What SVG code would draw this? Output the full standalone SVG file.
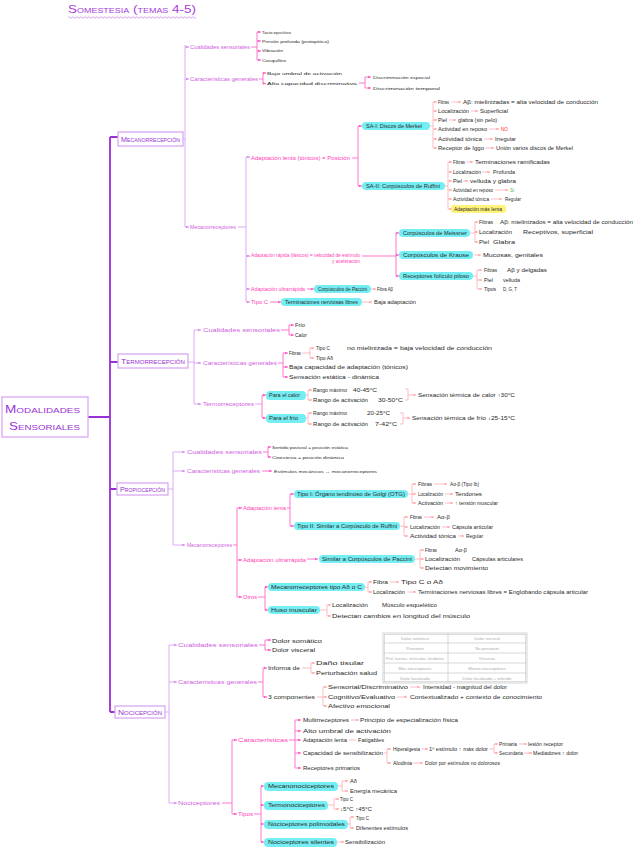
<svg xmlns="http://www.w3.org/2000/svg" width="637" height="848" viewBox="0 0 637 848">
<defs>
<style>
text{font-family:"Liberation Sans",Arial,sans-serif}
.t{font-size:4.6px;fill:#2b2b2b}
.ts{font-size:4.2px;fill:#2b2b2b}
.v{font-size:5.4px;fill:#d05ee0}
.p{font-size:5.2px;fill:#ff3fb6}
.bt{font-size:7px;fill:#9a33d2;font-variant:small-caps}
.rt{font-size:11px;fill:#9a33d2;font-variant:small-caps}
.title{font-size:10.5px;fill:#a640d8;font-variant:small-caps}
.tt{font-size:4.2px;fill:#ababab;text-anchor:middle}
.box{fill:#fff;stroke:#d9a9f3;stroke-width:1.3}
.hc{fill:#74eef3}
.hy{fill:#fff37a}
.main{stroke:#9b2fd6;stroke-width:1.8;fill:none}
.l2{stroke:#d8a0f0;stroke-width:0.9;fill:none}
.l3{stroke:#ff66c9;stroke-width:0.9;fill:none}
.l4{stroke:#ff9fa6;stroke-width:0.7;fill:none}
.tb{fill:none;stroke:#d2d2d2;stroke-width:0.9}
.red{fill:#ff2a2a}
.grn{fill:#4cbb3a}
</style>
<marker id="mv" viewBox="0 0 6 6" refX="6" refY="3" markerWidth="3.4" markerHeight="3.4" orient="auto"><path d="M0,0.5L6,3L0,5.5z" fill="#d28fee"/></marker>
<marker id="mp" viewBox="0 0 6 6" refX="6" refY="3" markerWidth="3.4" markerHeight="3.4" orient="auto"><path d="M0,0.5L6,3L0,5.5z" fill="#ff5cc6"/></marker>
<marker id="ms" viewBox="0 0 6 6" refX="6" refY="3" markerWidth="3.6" markerHeight="3.6" orient="auto"><path d="M0,0.5L6,3L0,5.5z" fill="#ff949e"/></marker>
</defs>
<rect width="637" height="848" fill="#fff"/>

<g id="title"><text class="title" x="68" y="13" textLength="128" lengthAdjust="spacingAndGlyphs">Somestesia (temas 4-5)</text>
<path d="M68,17.5q1,-1.6 2,0t2,0t2,0t2,0t2,0t2,0t2,0t2,0t2,0t2,0t2,0t2,0t2,0t2,0t2,0t2,0t2,0t2,0t2,0t2,0t2,0t2,0t2,0t2,0t2,0t2,0t2,0t2,0t2,0t2,0t2,0t2,0t2,0t2,0t2,0t2,0t2,0t2,0t2,0t2,0t2,0t2,0t2,0t2,0t2,0t2,0t2,0t2,0t2,0t2,0t2,0t2,0t2,0t2,0t2,0t2,0t2,0t2,0t2,0t2,0t2,0t2,0t2,0t2,0" fill="none" stroke="#c98ef0" stroke-width="0.8"/></g>

<g id="connectors">
<path class="main" d="M88,417H110M110,137V712M110,137H118M110,362H118M110,489H117M110,712H115"/>
<!-- mecano -->
<path class="l2" d="M183,139H185M185,45V227M238,227H246M246,157V302"/>
<path class="l2" marker-end="url(#mv)" d="M185,47H189"/>
<path class="l2" marker-end="url(#mv)" d="M185,79H189"/>
<path class="l2" marker-end="url(#mv)" d="M185,227H189"/>
<path class="l2" marker-end="url(#mv)" d="M246,157H250"/>
<path class="l2" marker-end="url(#mv)" d="M246,256H250"/>
<path class="l2" marker-end="url(#mv)" d="M246,289H250"/>
<path class="l2" marker-end="url(#mv)" d="M246,302H250"/>
<path class="l3" d="M251,47H257M257,32V60M259,79H263M263,73V84M359,83H365M365,77V88"/>
<path class="l3" marker-end="url(#mp)" d="M257,32H261"/>
<path class="l3" marker-end="url(#mp)" d="M257,41H261"/>
<path class="l3" marker-end="url(#mp)" d="M257,51H261"/>
<path class="l3" marker-end="url(#mp)" d="M257,60H261"/>
<path class="l3" marker-end="url(#mp)" d="M263,73H266"/>
<path class="l3" marker-end="url(#mp)" d="M263,83.5H266"/>
<path class="l3" marker-end="url(#mp)" d="M365,77H371"/>
<path class="l3" marker-end="url(#mp)" d="M365,88H371"/>
<path class="l3" d="M352,158H358M358,126V186M362,256H396M396,233V276"/>
<path class="l3" marker-end="url(#mp)" d="M358,126H362"/>
<path class="l3" marker-end="url(#mp)" d="M358,186H362"/>
<path class="l3" marker-end="url(#mp)" d="M396,233H399"/>
<path class="l3" marker-end="url(#mp)" d="M396,255H399"/>
<path class="l3" marker-end="url(#mp)" d="M396,276H399"/>
<path class="l3" marker-end="url(#mp)" d="M307,289H314"/>
<path class="l3" marker-end="url(#mp)" d="M270,302H281"/>
<path class="l4" d="M430,126H433M433,102V148M445,186H448M448,162V209M470,233H475M475,222V242M473,276H477M477,270V289"/>
<path class="l4" marker-end="url(#ms)" d="M433,102H437"/>
<path class="l4" marker-end="url(#ms)" d="M433,111H437"/>
<path class="l4" marker-end="url(#ms)" d="M433,120H437"/>
<path class="l4" marker-end="url(#ms)" d="M433,129H437"/>
<path class="l4" marker-end="url(#ms)" d="M433,139H437"/>
<path class="l4" marker-end="url(#ms)" d="M433,148H437"/>
<path class="l4" marker-end="url(#ms)" d="M451,102H461"/>
<path class="l4" marker-end="url(#ms)" d="M471,111H478"/>
<path class="l4" marker-end="url(#ms)" d="M449,120H456"/>
<path class="l4" marker-end="url(#ms)" d="M489,129H499"/>
<path class="l4" marker-end="url(#ms)" d="M484,139H493"/>
<path class="l4" marker-end="url(#ms)" d="M486,148H494"/>
<path class="l4" marker-end="url(#ms)" d="M448,162H452"/>
<path class="l4" marker-end="url(#ms)" d="M448,172H452"/>
<path class="l4" marker-end="url(#ms)" d="M448,181H452"/>
<path class="l4" marker-end="url(#ms)" d="M448,190H452"/>
<path class="l4" marker-end="url(#ms)" d="M448,199H452"/>
<path class="l4" marker-end="url(#ms)" d="M448,209H452"/>
<path class="l4" marker-end="url(#ms)" d="M466,162H473"/>
<path class="l4" marker-end="url(#ms)" d="M482,172H490"/>
<path class="l4" marker-end="url(#ms)" d="M463,181H468"/>
<path class="l4" marker-end="url(#ms)" d="M495,190H508"/>
<path class="l4" marker-end="url(#ms)" d="M491,199H502"/>
<path class="l4" marker-end="url(#ms)" d="M475,222H478"/>
<path class="l4" marker-end="url(#ms)" d="M475,232H478"/>
<path class="l4" marker-end="url(#ms)" d="M475,242H478"/>
<path class="l4" marker-end="url(#ms)" d="M474,255H481"/>
<path class="l4" marker-end="url(#ms)" d="M477,270H482"/>
<path class="l4" marker-end="url(#ms)" d="M477,280H482"/>
<path class="l4" marker-end="url(#ms)" d="M477,289H482"/>
<path class="l4" marker-end="url(#ms)" d="M371,289H376"/>
<path class="l4" marker-end="url(#ms)" d="M362,302H372"/>
<!-- termo -->
<path class="l2" d="M188,362H194M194,330V404M255,404H262"/>
<path class="l2" marker-end="url(#mv)" d="M194,330H201"/>
<path class="l2" marker-end="url(#mv)" d="M194,363H201"/>
<path class="l2" marker-end="url(#mv)" d="M194,404H201"/>
<path class="l3" d="M281,330H289M289,325V335M278,363H283M283,353V377M262,395V418"/>
<path class="l3" marker-end="url(#mp)" d="M289,325H294"/>
<path class="l3" marker-end="url(#mp)" d="M289,335H294"/>
<path class="l3" marker-end="url(#mp)" d="M283,353H288"/>
<path class="l3" marker-end="url(#mp)" d="M283,367H288"/>
<path class="l3" marker-end="url(#mp)" d="M283,377H288"/>
<path class="l3" marker-end="url(#mp)" d="M262,395H266"/>
<path class="l3" marker-end="url(#mp)" d="M262,418H266"/>
<path class="l4" d="M302,353H310M310,348V358M306,395H308M308,390V400M306,418H308M308,413V424M405,389H408V400H405M400,413H403V424H400"/>
<path class="l4" marker-end="url(#ms)" d="M310,348H314"/>
<path class="l4" marker-end="url(#ms)" d="M310,358H314"/>
<path class="l4" marker-end="url(#ms)" d="M308,390H312"/>
<path class="l4" marker-end="url(#ms)" d="M308,400H312"/>
<path class="l4" marker-end="url(#ms)" d="M308,413H312"/>
<path class="l4" marker-end="url(#ms)" d="M308,424H312"/>
<path class="l4" marker-end="url(#ms)" d="M408,395H416"/>
<path class="l4" marker-end="url(#ms)" d="M403,418H410"/>
<!-- propio -->
<path class="l2" d="M168,489H173M173,452V545"/>
<path class="l2" marker-end="url(#mv)" d="M173,452H185"/>
<path class="l2" marker-end="url(#mv)" d="M173,471H185"/>
<path class="l2" marker-end="url(#mv)" d="M173,545H185"/>
<path class="l3" d="M263,452H268M268,447V457M233,545H237M237,508V597M287,508H290M290,494V526M258,597H265M265,587V610"/>
<path class="l3" marker-end="url(#mp)" d="M268,447H271"/>
<path class="l3" marker-end="url(#mp)" d="M268,457H271"/>
<path class="l3" marker-end="url(#mp)" d="M262,471H272"/>
<path class="l3" marker-end="url(#mp)" d="M237,508H242"/>
<path class="l3" marker-end="url(#mp)" d="M237,560H242"/>
<path class="l3" marker-end="url(#mp)" d="M237,597H242"/>
<path class="l3" marker-end="url(#mp)" d="M290,494H294"/>
<path class="l3" marker-end="url(#mp)" d="M290,526H294"/>
<path class="l3" marker-end="url(#mp)" d="M307,559H318"/>
<path class="l3" marker-end="url(#mp)" d="M265,587H268"/>
<path class="l3" marker-end="url(#mp)" d="M265,610H268"/>
<path class="l4" d="M408,494H412M412,484V503M400,526H404M404,517V536M415,559H420M420,550V568M365,587H368M368,582V592M320,610H327M327,605V616"/>
<path class="l4" marker-end="url(#ms)" d="M412,484H416"/>
<path class="l4" marker-end="url(#ms)" d="M412,494H416"/>
<path class="l4" marker-end="url(#ms)" d="M412,503H416"/>
<path class="l4" marker-end="url(#ms)" d="M434,484H447"/>
<path class="l4" marker-end="url(#ms)" d="M445,494H453"/>
<path class="l4" marker-end="url(#ms)" d="M445,503H453"/>
<path class="l4" marker-end="url(#ms)" d="M404,517H408"/>
<path class="l4" marker-end="url(#ms)" d="M404,527H408"/>
<path class="l4" marker-end="url(#ms)" d="M404,536H408"/>
<path class="l4" marker-end="url(#ms)" d="M424,517H434"/>
<path class="l4" marker-end="url(#ms)" d="M442,527H450"/>
<path class="l4" marker-end="url(#ms)" d="M458,536H464"/>
<path class="l4" marker-end="url(#ms)" d="M420,550H424"/>
<path class="l4" marker-end="url(#ms)" d="M420,559H424"/>
<path class="l4" marker-end="url(#ms)" d="M420,568H424"/>
<path class="l4" marker-end="url(#ms)" d="M368,582H372"/>
<path class="l4" marker-end="url(#ms)" d="M368,592H372"/>
<path class="l4" marker-end="url(#ms)" d="M390,582H399"/>
<path class="l4" marker-end="url(#ms)" d="M407,592H416"/>
<path class="l4" marker-end="url(#ms)" d="M327,605H331"/>
<path class="l4" marker-end="url(#ms)" d="M327,616H331"/>
<!-- noci -->
<path class="l2" d="M165,712H169M169,645V803"/>
<path class="l2" marker-end="url(#mv)" d="M169,645H177"/>
<path class="l2" marker-end="url(#mv)" d="M169,682H177"/>
<path class="l2" marker-end="url(#mv)" d="M169,803H177"/>
<path class="l3" d="M259,645H265M265,640V650M258,682H263M263,668V697M222,803H232M232,740V814M289,740H295M295,720V768M254,814H261M261,786V842"/>
<path class="l3" marker-end="url(#mp)" d="M265,640H271"/>
<path class="l3" marker-end="url(#mp)" d="M265,650H271"/>
<path class="l3" marker-end="url(#mp)" d="M263,668H267"/>
<path class="l3" marker-end="url(#mp)" d="M263,697H267"/>
<path class="l3" marker-end="url(#mp)" d="M232,740H237"/>
<path class="l3" marker-end="url(#mp)" d="M232,814H237"/>
<path class="l3" marker-end="url(#mp)" d="M295,720H301"/>
<path class="l3" marker-end="url(#mp)" d="M295,731H301"/>
<path class="l3" marker-end="url(#mp)" d="M295,740H301"/>
<path class="l3" marker-end="url(#mp)" d="M295,753H301"/>
<path class="l3" marker-end="url(#mp)" d="M295,768H301"/>
<path class="l3" marker-end="url(#mp)" d="M261,786H264"/>
<path class="l3" marker-end="url(#mp)" d="M261,805H264"/>
<path class="l3" marker-end="url(#mp)" d="M261,824H264"/>
<path class="l3" marker-end="url(#mp)" d="M261,842H264"/>
<path class="l4" d="M302,668H311M311,663V673M317,697H323M323,687V706M349,740H356M384,753H387M387,749V763M489,749H494M494,744V753M338,786H342M342,781V791M328,805H334M334,799V809M348,824H350M350,817V828"/>
<path class="l4" marker-end="url(#ms)" d="M311,663H315"/>
<path class="l4" marker-end="url(#ms)" d="M311,673H315"/>
<path class="l4" marker-end="url(#ms)" d="M323,687H327"/>
<path class="l4" marker-end="url(#ms)" d="M323,697H327"/>
<path class="l4" marker-end="url(#ms)" d="M323,706H327"/>
<path class="l4" marker-end="url(#ms)" d="M410,687H420"/>
<path class="l4" marker-end="url(#ms)" d="M397,697H407"/>
<path class="l4" marker-end="url(#ms)" d="M351,720H359"/>
<path class="l4" marker-end="url(#ms)" d="M387,749H391"/>
<path class="l4" marker-end="url(#ms)" d="M387,763H391"/>
<path class="l4" marker-end="url(#ms)" d="M421,749H428"/>
<path class="l4" marker-end="url(#ms)" d="M494,744H498"/>
<path class="l4" marker-end="url(#ms)" d="M494,753H498"/>
<path class="l4" marker-end="url(#ms)" d="M519,744H527"/>
<path class="l4" marker-end="url(#ms)" d="M524,753H532"/>
<path class="l4" marker-end="url(#ms)" d="M413,763H423"/>
<path class="l4" marker-end="url(#ms)" d="M342,781H348"/>
<path class="l4" marker-end="url(#ms)" d="M342,791H348"/>
<path class="l4" marker-end="url(#ms)" d="M334,799H339"/>
<path class="l4" marker-end="url(#ms)" d="M334,809H339"/>
<path class="l4" marker-end="url(#ms)" d="M350,817H354"/>
<path class="l4" marker-end="url(#ms)" d="M350,828H354"/>
<path class="l4" marker-end="url(#ms)" d="M337,842H344"/>
</g>

<g id="root"><rect class="box" x="2" y="397" width="86" height="40"/><text class="rt" x="5" y="413" textLength="75" lengthAdjust="spacingAndGlyphs">Modalidades</text><text class="rt" x="9" y="430" textLength="71" lengthAdjust="spacingAndGlyphs">Sensoriales</text></g>

<!-- MECANORRECEPCION -->
<g id="mecano"><rect class="box" x="118" y="132" width="65" height="14"/><text class="bt" x="121" y="142.3" textLength="59" lengthAdjust="spacingAndGlyphs">Mecanorrecepción</text></g>
<g id="m-cual"><text class="v" x="190" y="48.6" textLength="60" lengthAdjust="spacingAndGlyphs">Cualidades sensoriales</text></g>
<g id="m-cual-1"><text class="ts" x="262" y="33.5" textLength="29" lengthAdjust="spacingAndGlyphs">Tacto epicrítico</text></g>
<g id="m-cual-2"><text class="ts" x="262" y="42.5" textLength="67" lengthAdjust="spacingAndGlyphs">Presión profunda (protopática)</text></g>
<g id="m-cual-3"><text class="ts" x="262" y="52" textLength="21" lengthAdjust="spacingAndGlyphs">Vibración</text></g>
<g id="m-cual-4"><text class="ts" x="262" y="61.5" textLength="24" lengthAdjust="spacingAndGlyphs">Cosquilleo</text></g>
<g id="m-car"><text class="v" x="190" y="80.6" textLength="68" lengthAdjust="spacingAndGlyphs">Características generales</text></g>
<g id="m-car-1"><text class="ts" x="267" y="74.6" textLength="75" lengthAdjust="spacingAndGlyphs">Bajo umbral de activación</text></g>
<g id="m-car-2"><text class="ts" x="267" y="84.6" textLength="90" lengthAdjust="spacingAndGlyphs">Alta capacidad discriminativa</text></g>
<g id="m-car-3"><text class="ts" x="373" y="78.6" textLength="57" lengthAdjust="spacingAndGlyphs">Discriminación espacial</text></g>
<g id="m-car-4"><text class="ts" x="373" y="89.6" textLength="67" lengthAdjust="spacingAndGlyphs">Discriminación temporal</text></g>
<g id="m-mr"><text class="v" x="190" y="228.6" textLength="46" lengthAdjust="spacingAndGlyphs">Mecanorreceptores</text></g>
<g id="m-lenta"><text class="p" x="251" y="159.6" textLength="99" lengthAdjust="spacingAndGlyphs">Adaptación lenta (tónicos) = Posición</text></g>
<g id="m-sa1"><rect class="hc" x="362" y="122" width="68" height="8" rx="4"/><text class="t" x="366" y="127.6" textLength="56" lengthAdjust="spacingAndGlyphs">SA-I: Discos de Merkel</text></g>
<g id="sa1-1"><text class="t" x="438" y="103.6" textLength="11" lengthAdjust="spacingAndGlyphs">Fibras</text><text class="t" x="463" y="103.6" textLength="135" lengthAdjust="spacingAndGlyphs">Aβ: mielinizadas = alta velocidad de conducción</text></g>
<g id="sa1-2"><text class="t" x="438" y="112.6" textLength="31" lengthAdjust="spacingAndGlyphs">Localización</text><text class="t" x="480" y="112.6" textLength="28" lengthAdjust="spacingAndGlyphs">Superficial</text></g>
<g id="sa1-3"><text class="t" x="438" y="121.6" textLength="9" lengthAdjust="spacingAndGlyphs">Piel</text><text class="t" x="458" y="121.6" textLength="39" lengthAdjust="spacingAndGlyphs">glabra (sin pelo)</text></g>
<g id="sa1-4"><text class="t" x="438" y="130.6" textLength="49" lengthAdjust="spacingAndGlyphs">Actividad en reposo</text><text class="t red" x="501" y="130.6">NO</text></g>
<g id="sa1-5"><text class="t" x="438" y="140.6" textLength="44" lengthAdjust="spacingAndGlyphs">Actividad tónica</text><text class="t" x="495" y="140.6" textLength="21" lengthAdjust="spacingAndGlyphs">Irregular</text></g>
<g id="sa1-6"><text class="t" x="438" y="149.6" textLength="46" lengthAdjust="spacingAndGlyphs">Receptor de Iggo</text><text class="t" x="496" y="149.6" textLength="77" lengthAdjust="spacingAndGlyphs">Unión varios discos de Merkel</text></g>
<g id="m-sa2"><rect class="hc" x="362" y="182" width="83" height="8" rx="4"/><text class="t" x="366" y="187.6" textLength="74" lengthAdjust="spacingAndGlyphs">SA-II: Corpúsculos de Ruffini</text></g>
<g id="sa2-1"><text class="t" x="453" y="163.6" textLength="12" lengthAdjust="spacingAndGlyphs">Fibras</text><text class="t" x="475" y="163.6" textLength="75" lengthAdjust="spacingAndGlyphs">Terminaciones ramificadas</text></g>
<g id="sa2-2"><text class="t" x="453" y="173.6" textLength="28" lengthAdjust="spacingAndGlyphs">Localización</text><text class="t" x="493" y="173.6" textLength="22" lengthAdjust="spacingAndGlyphs">Profunda</text></g>
<g id="sa2-3"><text class="t" x="453" y="182.6" textLength="9" lengthAdjust="spacingAndGlyphs">Piel</text><text class="t" x="470" y="182.6" textLength="46" lengthAdjust="spacingAndGlyphs">velluda y glabra</text></g>
<g id="sa2-4"><text class="t" x="453" y="191.6" textLength="40" lengthAdjust="spacingAndGlyphs">Actividad en reposo</text><text class="t grn" x="510" y="191.6">Sí</text></g>
<g id="sa2-5"><text class="t" x="453" y="200.6" textLength="36" lengthAdjust="spacingAndGlyphs">Actividad tónica</text><text class="t" x="505" y="200.6" textLength="16" lengthAdjust="spacingAndGlyphs">Regular</text></g>
<g id="sa2-6"><rect class="hy" x="451" y="205" width="55" height="8" rx="3"/><text class="t" x="454" y="210.6" textLength="48" lengthAdjust="spacingAndGlyphs">Adaptación más lenta</text></g>
<g id="m-rapida"><text class="p" x="251" y="256.6" textLength="109" lengthAdjust="spacingAndGlyphs">Adaptación rápida (fásicos) = velocidad de estímulo</text><text class="p" x="332" y="262.6" textLength="28" lengthAdjust="spacingAndGlyphs">y aceleración</text></g>
<g id="m-meissner"><rect class="hc" x="399" y="229" width="71" height="8" rx="4"/><text class="t" x="403" y="234.6" textLength="64" lengthAdjust="spacingAndGlyphs">Corpúsculos de Meissner</text></g>
<g id="mei-1"><text class="t" x="479" y="223.6" textLength="14" lengthAdjust="spacingAndGlyphs">Fibras</text><text class="t" x="500" y="223.6" textLength="133" lengthAdjust="spacingAndGlyphs">Aβ: mielinizados = alta velocidad de conducción</text></g>
<g id="mei-2"><text class="t" x="479" y="233.6" textLength="33" lengthAdjust="spacingAndGlyphs">Localización</text><text class="t" x="523" y="233.6" textLength="70" lengthAdjust="spacingAndGlyphs">Receptivos, superficial</text></g>
<g id="mei-3"><text class="t" x="479" y="243.6" textLength="10" lengthAdjust="spacingAndGlyphs">Piel</text><text class="t" x="493" y="243.6" textLength="22" lengthAdjust="spacingAndGlyphs">Glabra</text></g>
<g id="m-krause"><rect class="hc" x="399" y="251" width="74" height="8" rx="4"/><text class="t" x="403" y="256.6" textLength="66" lengthAdjust="spacingAndGlyphs">Corpúsculos de Krause</text></g>
<g id="kra-1"><text class="t" x="483" y="256.6" textLength="60" lengthAdjust="spacingAndGlyphs">Mucosas, genitales</text></g>
<g id="m-foliculo"><rect class="hc" x="399" y="272" width="74" height="8" rx="4"/><text class="t" x="403" y="277.6" textLength="66" lengthAdjust="spacingAndGlyphs">Receptores folículo piloso</text></g>
<g id="fol-1"><text class="t" x="484" y="271.6" textLength="13" lengthAdjust="spacingAndGlyphs">Fibras</text><text class="t" x="507" y="271.6" textLength="40" lengthAdjust="spacingAndGlyphs">Aβ y delgadas</text></g>
<g id="fol-2"><text class="t" x="484" y="281.6" textLength="9" lengthAdjust="spacingAndGlyphs">Piel</text><text class="t" x="503" y="281.6" textLength="17" lengthAdjust="spacingAndGlyphs">velluda</text></g>
<g id="fol-3"><text class="t" x="484" y="290.6" textLength="12" lengthAdjust="spacingAndGlyphs">Tipos</text><text class="t" x="503" y="290.6" textLength="14" lengthAdjust="spacingAndGlyphs">D, G, T</text></g>
<g id="m-ultra"><text class="p" x="251" y="290.6" textLength="54" lengthAdjust="spacingAndGlyphs">Adaptación ultrarrápida</text></g>
<g id="m-paccini"><rect class="hc" x="314" y="285" width="57" height="8" rx="4"/><text class="t" x="318" y="290.6" textLength="49" lengthAdjust="spacingAndGlyphs">Corpúsculos de Paccini</text></g>
<g id="pac-1"><text class="t" x="377" y="290.6" textLength="16" lengthAdjust="spacingAndGlyphs">Fibra Aβ</text></g>
<g id="m-tipoc"><text class="p" x="251" y="303.6" textLength="17" lengthAdjust="spacingAndGlyphs">Tipo C</text></g>
<g id="m-libres"><rect class="hc" x="281" y="298" width="81" height="8" rx="4"/><text class="t" x="285" y="303.6" textLength="73" lengthAdjust="spacingAndGlyphs">Terminaciones nerviosas libres</text></g>
<g id="lib-1"><text class="t" x="374" y="303.6" textLength="42" lengthAdjust="spacingAndGlyphs">Baja adaptación</text></g>

<!-- TERMORRECEPCION -->
<g id="termo"><rect class="box" x="118" y="354" width="70" height="14"/><text class="bt" x="121" y="364.3" textLength="64" lengthAdjust="spacingAndGlyphs">Termorrecepción</text></g>
<g id="t-cual"><text class="v" x="203" y="331.6" textLength="77" lengthAdjust="spacingAndGlyphs">Cualidades sensoriales</text></g>
<g id="t-cual-1"><text class="t" x="295" y="326.6" textLength="10" lengthAdjust="spacingAndGlyphs">Frío</text></g>
<g id="t-cual-2"><text class="t" x="295" y="336.6" textLength="12" lengthAdjust="spacingAndGlyphs">Calor</text></g>
<g id="t-car"><text class="v" x="203" y="364.6" textLength="74" lengthAdjust="spacingAndGlyphs">Características generales</text></g>
<g id="t-fibras"><text class="t" x="289" y="354.6" textLength="12" lengthAdjust="spacingAndGlyphs">Fibras</text></g>
<g id="t-fib-1"><text class="t" x="316" y="349.6" textLength="14" lengthAdjust="spacingAndGlyphs">Tipo C</text><text class="t" x="347" y="349.6" textLength="145" lengthAdjust="spacingAndGlyphs">no mielinizada = baja velocidad de conducción</text></g>
<g id="t-fib-2"><text class="t" x="316" y="359.6" textLength="17" lengthAdjust="spacingAndGlyphs">Tipo Aδ</text></g>
<g id="t-car-2"><text class="t" x="289" y="368.6" textLength="119" lengthAdjust="spacingAndGlyphs">Baja capacidad de adaptación (tónicos)</text></g>
<g id="t-car-3"><text class="t" x="289" y="378.6" textLength="90" lengthAdjust="spacingAndGlyphs">Sensación estática - dinámica</text></g>
<g id="t-rec"><text class="v" x="203" y="405.6" textLength="51" lengthAdjust="spacingAndGlyphs">Termorreceptores</text></g>
<g id="t-calor"><rect class="hc" x="266" y="391" width="40" height="9" rx="4"/><text class="t" x="269" y="397" textLength="31" lengthAdjust="spacingAndGlyphs">Para el calor</text></g>
<g id="t-calor-1"><text class="t" x="313" y="391.6" textLength="34" lengthAdjust="spacingAndGlyphs">Rango máximo</text><text class="t" x="353" y="391.6" textLength="24" lengthAdjust="spacingAndGlyphs">40-45°C</text></g>
<g id="t-calor-2"><text class="t" x="313" y="401.6" textLength="55" lengthAdjust="spacingAndGlyphs">Rango de activación</text><text class="t" x="378" y="401.6" textLength="25" lengthAdjust="spacingAndGlyphs">30-50°C</text></g>
<g id="t-calor-3"><text class="t" x="418" y="396.6" textLength="97" lengthAdjust="spacingAndGlyphs">Sensación térmica de calor ↑30°C</text></g>
<g id="t-frio"><rect class="hc" x="266" y="414" width="40" height="9" rx="4"/><text class="t" x="269" y="420" textLength="29" lengthAdjust="spacingAndGlyphs">Para el frío</text></g>
<g id="t-frio-1"><text class="t" x="313" y="414.6" textLength="34" lengthAdjust="spacingAndGlyphs">Rango máximo</text><text class="t" x="367" y="414.6" textLength="23" lengthAdjust="spacingAndGlyphs">20-25°C</text></g>
<g id="t-frio-2"><text class="t" x="313" y="425.6" textLength="55" lengthAdjust="spacingAndGlyphs">Rango de activación</text><text class="t" x="375" y="425.6" textLength="22" lengthAdjust="spacingAndGlyphs">7-42°C</text></g>
<g id="t-frio-3"><text class="t" x="412" y="419.6" textLength="103" lengthAdjust="spacingAndGlyphs">Sensación térmica de frío ↓25-15°C</text></g>

<!-- PROPIOCEPCION -->
<g id="propio"><rect class="box" x="117" y="483" width="51" height="12"/><text class="bt" x="120" y="492.3" textLength="45" lengthAdjust="spacingAndGlyphs">Propiocepción</text></g>
<g id="p-cual"><text class="v" x="187" y="453.6" textLength="75" lengthAdjust="spacingAndGlyphs">Cualidades sensoriales</text></g>
<g id="p-cual-1"><text class="ts" x="272" y="448.6" textLength="76" lengthAdjust="spacingAndGlyphs">Sentido postural = posición estática</text></g>
<g id="p-cual-2"><text class="ts" x="272" y="458.6" textLength="72" lengthAdjust="spacingAndGlyphs">Cinestesia = posición dinámica</text></g>
<g id="p-car"><text class="v" x="187" y="472.6" textLength="73" lengthAdjust="spacingAndGlyphs">Características generales</text></g>
<g id="p-car-1"><text class="ts" x="274" y="472.6" textLength="103" lengthAdjust="spacingAndGlyphs">Estímulos mecánicos → mecanorreceptores</text></g>
<g id="p-mr"><text class="v" x="187" y="546.6" textLength="45" lengthAdjust="spacingAndGlyphs">Mecanorreceptores</text></g>
<g id="p-lenta"><text class="p" x="243" y="509.6" textLength="43" lengthAdjust="spacingAndGlyphs">Adaptación lenta</text></g>
<g id="p-otg"><rect class="hc" x="294" y="490" width="114" height="8" rx="4"/><text class="t" x="297" y="495.6" textLength="108" lengthAdjust="spacingAndGlyphs">Tipo I: Órgano tendinoso de Golgi (OTG)</text></g>
<g id="otg-1"><text class="t" x="418" y="485.6" textLength="14" lengthAdjust="spacingAndGlyphs">Fibras</text><text class="t" x="450" y="485.6" textLength="29" lengthAdjust="spacingAndGlyphs">Aα-β (Tipo Ib)</text></g>
<g id="otg-2"><text class="t" x="418" y="495.6" textLength="25" lengthAdjust="spacingAndGlyphs">Localización</text><text class="t" x="455" y="495.6" textLength="27" lengthAdjust="spacingAndGlyphs">Tendones</text></g>
<g id="otg-3"><text class="t" x="418" y="504.6" textLength="25" lengthAdjust="spacingAndGlyphs">Activación</text><text class="t" x="455" y="504.6" textLength="43" lengthAdjust="spacingAndGlyphs">↑ tensión muscular</text></g>
<g id="p-ruffini"><rect class="hc" x="294" y="522" width="106" height="8" rx="4"/><text class="t" x="297" y="527.6" textLength="100" lengthAdjust="spacingAndGlyphs">Tipo II: Similar a Corpúsculo de Ruffini</text></g>
<g id="ruf-1"><text class="t" x="410" y="518.6" textLength="12" lengthAdjust="spacingAndGlyphs">Fibras</text><text class="t" x="437" y="518.6" textLength="13" lengthAdjust="spacingAndGlyphs">Aα-β</text></g>
<g id="ruf-2"><text class="t" x="410" y="528.6" textLength="30" lengthAdjust="spacingAndGlyphs">Localización</text><text class="t" x="452" y="528.6" textLength="41" lengthAdjust="spacingAndGlyphs">Cápsula articular</text></g>
<g id="ruf-3"><text class="t" x="410" y="537.6" textLength="46" lengthAdjust="spacingAndGlyphs">Actividad tónica</text><text class="t" x="466" y="537.6" textLength="17" lengthAdjust="spacingAndGlyphs">Regular</text></g>
<g id="p-ultra"><text class="p" x="243" y="561.6" textLength="63" lengthAdjust="spacingAndGlyphs">Adaptación ultrarrápida</text></g>
<g id="p-paccini"><rect class="hc" x="319" y="555" width="96" height="8" rx="4"/><text class="t" x="322" y="560.6" textLength="90" lengthAdjust="spacingAndGlyphs">Similar a Corpúsculos de Paccini</text></g>
<g id="ppac-1"><text class="t" x="425" y="551.6" textLength="12" lengthAdjust="spacingAndGlyphs">Fibras</text><text class="t" x="455" y="551.6" textLength="12" lengthAdjust="spacingAndGlyphs">Aα-β</text></g>
<g id="ppac-2"><text class="t" x="425" y="560.6" textLength="35" lengthAdjust="spacingAndGlyphs">Localización</text><text class="t" x="472" y="560.6" textLength="51" lengthAdjust="spacingAndGlyphs">Cápsulas articulares</text></g>
<g id="ppac-3"><text class="t" x="425" y="569.6" textLength="63" lengthAdjust="spacingAndGlyphs">Detectan movimiento</text></g>
<g id="p-otros"><text class="p" x="243" y="598.6" textLength="14" lengthAdjust="spacingAndGlyphs">Otros</text></g>
<g id="p-mrac"><rect class="hc" x="268" y="583" width="97" height="8" rx="4"/><text class="t" x="271" y="588.6" textLength="91" lengthAdjust="spacingAndGlyphs">Mecanorreceptores tipo Aδ o C</text></g>
<g id="mrac-1"><text class="t" x="373" y="583.6" textLength="15" lengthAdjust="spacingAndGlyphs">Fibra</text><text class="t" x="401" y="583.6" textLength="42" lengthAdjust="spacingAndGlyphs">Tipo C o Aδ</text></g>
<g id="mrac-2"><text class="t" x="373" y="593.6" textLength="32" lengthAdjust="spacingAndGlyphs">Localización</text><text class="t" x="418" y="593.6" textLength="170" lengthAdjust="spacingAndGlyphs">Terminaciones nerviosas libres = Englobando cápsula articular</text></g>
<g id="p-huso"><rect class="hc" x="268" y="606" width="52" height="8" rx="4"/><text class="t" x="271" y="611.6" textLength="46" lengthAdjust="spacingAndGlyphs">Huso muscular</text></g>
<g id="huso-1"><text class="t" x="332" y="606.6" textLength="36" lengthAdjust="spacingAndGlyphs">Localización</text><text class="t" x="382" y="606.6" textLength="55" lengthAdjust="spacingAndGlyphs">Músculo esquelético</text></g>
<g id="huso-2"><text class="t" x="332" y="617.6" textLength="138" lengthAdjust="spacingAndGlyphs">Detectan cambios en longitud del músculo</text></g>

<!-- NOCICEPCION -->
<g id="noci"><rect class="box" x="115" y="706" width="50" height="12"/><text class="bt" x="118" y="715.3" textLength="44" lengthAdjust="spacingAndGlyphs">Nocicepción</text></g>
<g id="n-cual"><text class="v" x="178" y="646.6" textLength="80" lengthAdjust="spacingAndGlyphs">Cualidades sensoriales</text></g>
<g id="n-cual-1"><text class="t" x="272" y="642.6" textLength="50" lengthAdjust="spacingAndGlyphs">Dolor somático</text></g>
<g id="n-cual-2"><text class="t" x="272" y="651.6" textLength="43" lengthAdjust="spacingAndGlyphs">Dolor visceral</text></g>
<g id="n-car"><text class="v" x="178" y="683.6" textLength="79" lengthAdjust="spacingAndGlyphs">Características generales</text></g>
<g id="n-informa"><text class="t" x="268" y="669.6" textLength="32" lengthAdjust="spacingAndGlyphs">Informa de</text></g>
<g id="n-inf-1"><text class="t" x="316" y="664.6" textLength="48" lengthAdjust="spacingAndGlyphs">Daño tisular</text></g>
<g id="n-inf-2"><text class="t" x="316" y="674.6" textLength="61" lengthAdjust="spacingAndGlyphs">Perturbación salud</text></g>
<g id="n-comp"><text class="t" x="268" y="698.6" textLength="47" lengthAdjust="spacingAndGlyphs">3 componentes</text></g>
<g id="n-comp-1"><text class="t" x="328" y="688.6" textLength="80" lengthAdjust="spacingAndGlyphs">Sensorial/Discriminativo</text><text class="t" x="423" y="688.6" textLength="84" lengthAdjust="spacingAndGlyphs">Intensidad - magnitud del dolor</text></g>
<g id="n-comp-2"><text class="t" x="328" y="698.6" textLength="67" lengthAdjust="spacingAndGlyphs">Cognitivo/Evaluativo</text><text class="t" x="410" y="698.6" textLength="132" lengthAdjust="spacingAndGlyphs">Contextualizado + contexto de conocimiento</text></g>
<g id="n-comp-3"><text class="t" x="328" y="707.6" textLength="62" lengthAdjust="spacingAndGlyphs">Afectivo emocional</text></g>
<g id="tabla"><rect class="tb" x="383" y="633" width="144" height="50"/><rect class="tb" x="384.3" y="634.3" width="141.4" height="47.4"/><path class="tb" d="M448,633V683M383,643H527M383,653H527M383,663H527M383,673H527"/>
<text class="tt" x="415" y="639.5">Dolor somático</text><text class="tt" x="487" y="639.5">Dolor visceral</text>
<text class="tt" x="415" y="649.5">Punzante</text><text class="tt" x="487" y="649.5">No punzante</text>
<text class="tt" x="415" y="659.5" textLength="58" lengthAdjust="spacingAndGlyphs">Piel, huesos, músculos, tendones</text><text class="tt" x="487" y="659.5">Vísceras</text>
<text class="tt" x="415" y="669.5">Más nociceptores</text><text class="tt" x="487" y="669.5">Menos nociceptores</text>
<text class="tt" x="415" y="679.5">Dolor localizado</text><text class="tt" x="487" y="679.5">Dolor localizado + referido</text></g>
<g id="n-noc"><text class="v" x="178" y="804.6" textLength="42" lengthAdjust="spacingAndGlyphs">Nociceptores</text></g>
<g id="n-caract"><text class="p" x="238" y="742" textLength="50" lengthAdjust="spacingAndGlyphs">Características</text></g>
<g id="nc-1"><text class="t" x="303" y="721.6" textLength="46" lengthAdjust="spacingAndGlyphs">Multirreceptores</text><text class="t" x="360" y="721.6" textLength="98" lengthAdjust="spacingAndGlyphs">Principio de especialización física</text></g>
<g id="nc-2"><text class="t" x="303" y="732.6" textLength="88" lengthAdjust="spacingAndGlyphs">Alto umbral de activación</text></g>
<g id="nc-3"><text class="t" x="303" y="741.6" textLength="44" lengthAdjust="spacingAndGlyphs">Adaptación lenta</text><text class="t" x="358" y="741.6" textLength="26" lengthAdjust="spacingAndGlyphs">Fatigables</text></g>
<g id="nc-4"><text class="t" x="303" y="754.6" textLength="80" lengthAdjust="spacingAndGlyphs">Capacidad de sensibilización</text></g>
<g id="nc-hiper"><text class="t" x="393" y="750.6" textLength="27" lengthAdjust="spacingAndGlyphs">Hiperalgesia</text><text class="t" x="429" y="750.6" textLength="59" lengthAdjust="spacingAndGlyphs">1º estímulo ↑ más dolor</text></g>
<g id="nc-prim"><text class="t" x="499" y="745.6" textLength="18" lengthAdjust="spacingAndGlyphs">Primaria</text><text class="t" x="528" y="745.6" textLength="35" lengthAdjust="spacingAndGlyphs">lesión receptor</text></g>
<g id="nc-sec"><text class="t" x="499" y="754.6" textLength="24" lengthAdjust="spacingAndGlyphs">Secundaria</text><text class="t" x="533" y="754.6" textLength="45" lengthAdjust="spacingAndGlyphs">Mediadores ↑ dolor</text></g>
<g id="nc-alo"><text class="t" x="393" y="764.6" textLength="19" lengthAdjust="spacingAndGlyphs">Alodinia</text><text class="t" x="425" y="764.6" textLength="75" lengthAdjust="spacingAndGlyphs">Dolor por estímulos no dolorosos</text></g>
<g id="nc-5"><text class="t" x="303" y="769.6" textLength="57" lengthAdjust="spacingAndGlyphs">Receptores primarios</text></g>
<g id="n-tipos"><text class="p" x="238" y="815.6" textLength="15" lengthAdjust="spacingAndGlyphs">Tipos</text></g>
<g id="nt-meca"><rect class="hc" x="264" y="782" width="74" height="9" rx="4"/><text class="t" x="268" y="788" textLength="66" lengthAdjust="spacingAndGlyphs">Mecanonociceptores</text></g>
<g id="nt-meca-1"><text class="t" x="350" y="782.6" textLength="7" lengthAdjust="spacingAndGlyphs">Aδ</text><text class="t" x="350" y="792.6" textLength="47" lengthAdjust="spacingAndGlyphs">Energía mecánica</text></g>
<g id="nt-termo"><rect class="hc" x="264" y="801" width="64" height="9" rx="4"/><text class="t" x="268" y="807" textLength="57" lengthAdjust="spacingAndGlyphs">Termonociceptores</text></g>
<g id="nt-termo-1"><text class="t" x="340" y="800.6" textLength="13" lengthAdjust="spacingAndGlyphs">Tipo C</text><text class="t" x="340" y="810.6" textLength="32" lengthAdjust="spacingAndGlyphs">↓5°C  ↑45°C</text></g>
<g id="nt-poli"><rect class="hc" x="264" y="820" width="84" height="9" rx="4"/><text class="t" x="268" y="826" textLength="77" lengthAdjust="spacingAndGlyphs">Nociceptores polimodales</text></g>
<g id="nt-poli-1"><text class="t" x="356" y="819.6" textLength="13" lengthAdjust="spacingAndGlyphs">Tipo C</text><text class="t" x="356" y="829.6" textLength="52" lengthAdjust="spacingAndGlyphs">Diferentes estímulos</text></g>
<g id="nt-sil"><rect class="hc" x="264" y="838" width="73" height="9" rx="4"/><text class="t" x="268" y="844" textLength="66" lengthAdjust="spacingAndGlyphs">Nociceptores silentes</text></g>
<g id="nt-sil-1"><text class="t" x="345" y="843.6" textLength="40" lengthAdjust="spacingAndGlyphs">Sensibilización</text></g>
</svg>
